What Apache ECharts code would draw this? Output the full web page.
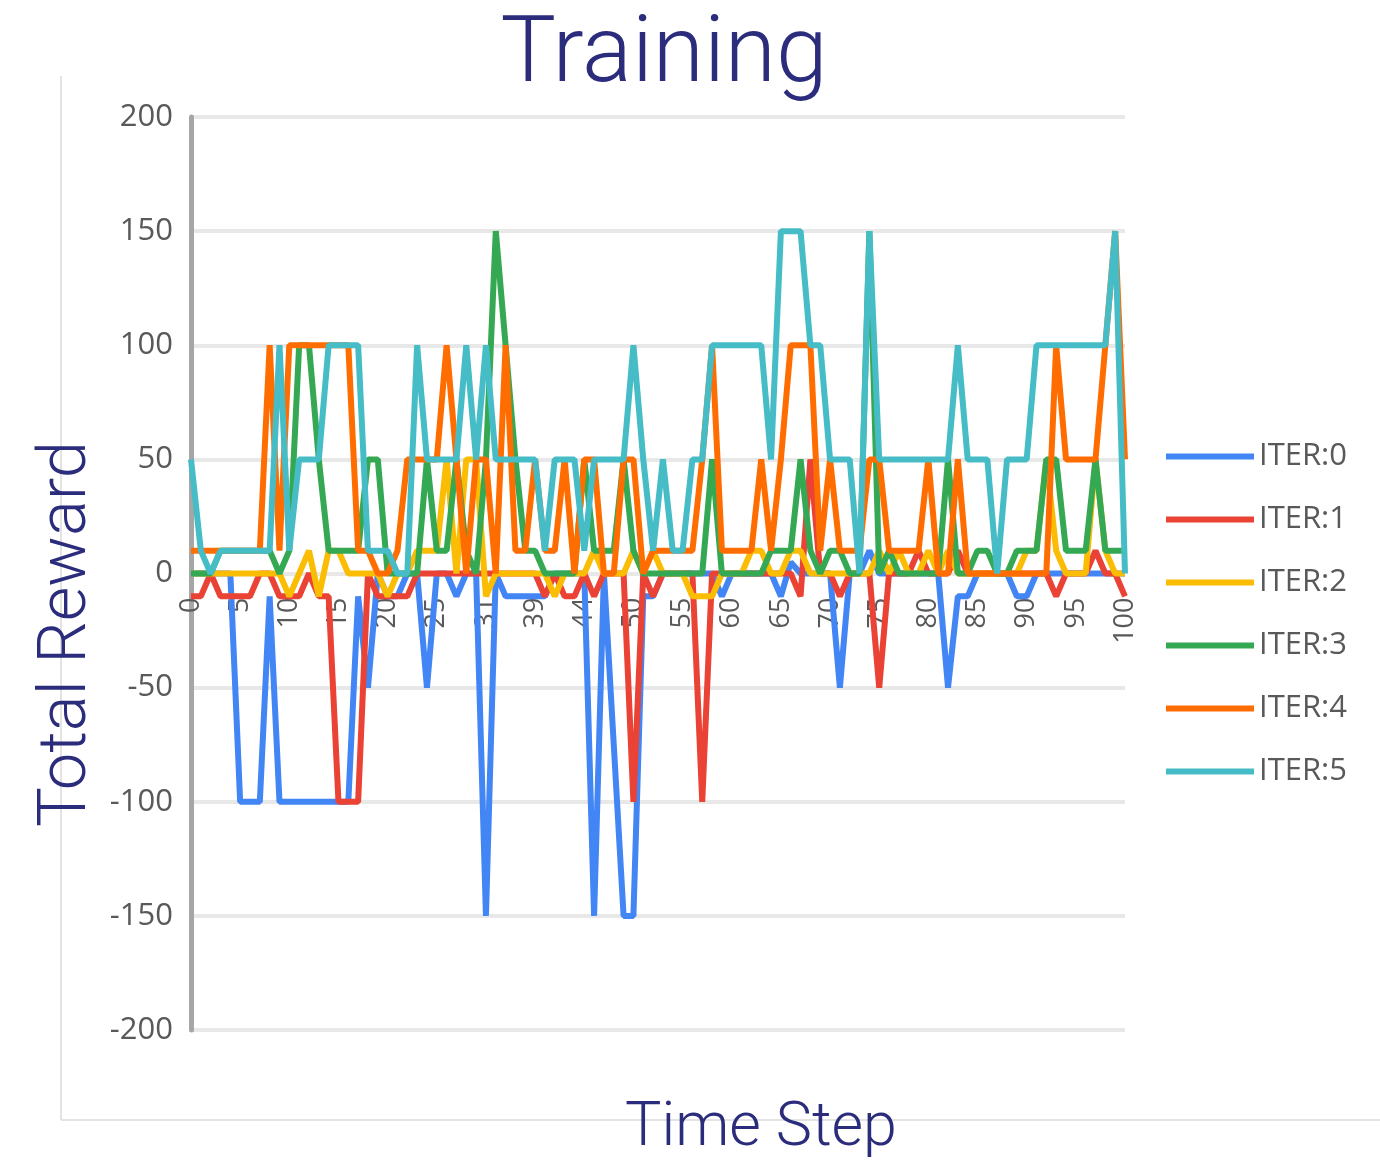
<!DOCTYPE html>
<html>
<head>
<meta charset="utf-8">
<script src="https://cdn.jsdelivr.net/npm/echarts@6/dist/echarts.min.js"></script>
<style>
  html, body { margin: 0; padding: 0; background: #ffffff; }
  #chart { width: 1380px; height: 1160px; }
</style>
</head>
<body>
<div id="chart"></div>
<script>
// Time step of each sample
const timeSteps = [
  0, 1, 2, 3, 4, 5, 6, 7, 8, 9, 10, 11, 12, 13, 14, 15, 16, 17, 18, 19,
  20, 21, 22, 23, 24, 25, 26, 27, 29, 30, 31, 32, 34, 36, 38, 39, 40, 41, 42, 43,
  44, 45, 46, 48, 49, 50, 51, 52, 53, 54, 55, 56, 57, 58, 59, 60, 61, 62, 63, 64,
  65, 66, 67, 68, 69, 70, 71, 72, 73, 74, 75, 76, 77, 78, 79, 80, 81, 82, 83, 84,
  85, 86, 87, 88, 89, 90, 91, 92, 93, 94, 95, 96, 97, 98, 99, 100
];

const seriesNames = ['ITER:0', 'ITER:1', 'ITER:2', 'ITER:3', 'ITER:4', 'ITER:5'];
const seriesColors = ['#4285F4', '#EA4335', '#FBBC04', '#34A853', '#FF6D01', '#46BDC6'];

// Total reward per iteration
const iter0 = [
  0, 0, 0, 0, 0, -100, -100, -100, -10, -100, -100, -100, -100, -100, -100, -100, -100, -10, -50, 0,
  -10, -10, 0, 0, -50, 0, 0, -10, 0, 0, -150, 0, -10, -10, -10, -10, -10, 0, 0, 0,
  0, -150, 0, -75, -150, -150, -10, -10, 0, 0, 0, 0, 0, 0, -10, 0, 0, 0, 0, 0,
  -10, 5, 0, 0, 0, 0, -50, 0, 0, 10, 0, 0, 0, 0, 0, 0, 0, -50, -10, -10,
  0, 0, 0, 0, -10, -10, 0, 0, 0, 0, 0, 0, 0, 0, 0, 0
];
const iter1 = [
  -10, -10, 0, -10, -10, -10, -10, 0, 0, -10, -10, -10, 0, -10, -10, -100, -100, -100, 0, -10,
  -10, -10, -10, 0, 0, 0, 0, 0, 0, 0, 0, 0, 0, 0, 0, 0, -10, 0, -10, -10,
  0, -10, 0, 0, 0, -100, 0, -10, 0, 0, 0, 0, -100, 0, 0, 0, 0, 0, 0, 0,
  0, 0, -10, 50, 0, 0, -10, 0, 0, 0, -50, 0, 0, 0, 10, 0, 0, 0, 10, 0,
  0, 0, 0, 0, 0, 0, 0, 0, -10, 0, 0, 0, 10, 0, 0, -10
];
const iter2 = [
  0, 0, 0, 0, 0, 0, 0, 0, 0, 0, -10, 0, 10, -10, 10, 10, 0, 0, 0, 0,
  -10, 0, 0, 10, 10, 10, 50, 0, 50, 50, -10, 0, 0, 0, 0, 0, 0, -10, 0, 0,
  0, 10, 0, 0, 0, 10, 0, 10, 0, 0, 0, -10, -10, -10, 0, 0, 0, 10, 10, 0,
  0, 10, 10, 0, 0, 0, 0, 0, 0, 0, 10, 0, 10, 0, 0, 10, 0, 10, 0, 0,
  0, 0, 0, 0, 0, 10, 10, 50, 10, 0, 0, 0, 50, 10, 0, 0
];
const iter3 = [
  0, 0, 0, 10, 10, 10, 10, 10, 10, 0, 10, 100, 100, 50, 10, 10, 10, 10, 50, 50,
  0, 0, 0, 0, 50, 10, 10, 50, 10, 0, 50, 150, 100, 50, 10, 10, 0, 0, 0, 0,
  50, 10, 10, 10, 50, 10, 0, 0, 0, 0, 0, 0, 0, 50, 0, 0, 0, 0, 0, 10,
  10, 10, 50, 10, 0, 10, 10, 0, 0, 150, 0, 10, 0, 0, 0, 0, 0, 50, 0, 0,
  10, 10, 0, 0, 10, 10, 10, 50, 50, 10, 10, 10, 50, 10, 10, 10
];
const iter4 = [
  10, 10, 10, 10, 10, 10, 10, 10, 100, 10, 100, 100, 100, 100, 100, 100, 100, 10, 10, 0,
  0, 10, 50, 50, 50, 50, 100, 50, 0, 50, 50, 0, 100, 10, 10, 50, 10, 10, 50, 0,
  50, 50, 0, 0, 50, 50, 0, 10, 10, 10, 10, 10, 50, 100, 10, 10, 10, 10, 50, 10,
  50, 100, 100, 100, 10, 50, 10, 10, 10, 50, 50, 10, 10, 10, 10, 50, 0, 0, 50, 0,
  0, 0, 0, 0, 0, 0, 0, 0, 100, 50, 50, 50, 50, 100, 150, 50
];
const iter5 = [
  50, 10, 0, 10, 10, 10, 10, 10, 10, 100, 10, 50, 50, 50, 100, 100, 100, 100, 10, 10,
  10, 0, 0, 100, 50, 50, 50, 50, 100, 50, 100, 50, 50, 50, 50, 50, 10, 50, 50, 50,
  10, 50, 50, 50, 50, 100, 50, 10, 50, 10, 10, 50, 50, 100, 100, 100, 100, 100, 100, 50,
  150, 150, 150, 100, 100, 50, 50, 50, 0, 150, 50, 50, 50, 50, 50, 50, 50, 50, 100, 50,
  50, 50, 0, 50, 50, 50, 100, 100, 100, 100, 100, 100, 100, 100, 150, 0
];

const rewardSeries = [iter0, iter1, iter2, iter3, iter4, iter5];

const yTicks = { min: -200, max: 200, step: 50 };

const chart = echarts.init(document.getElementById('chart'), null, { renderer: 'canvas' });

const labelFont = '"Open Sans", "Noto Sans", sans-serif';
const headFont = 'Roboto, "Open Sans", sans-serif';
const navy = '#2B2D7C';

// grid geometry: the category labels sit just under the zero line
const gridTop = 117;
const gridBottom = 1030;
const zeroY = gridTop + (gridBottom - gridTop) * (yTicks.max - 0) / (yTicks.max - yTicks.min);

chart.setOption({
  animation: false,
  backgroundColor: '#ffffff',
  textStyle: { fontFamily: labelFont },
  grid: { left: 191, right: 255, top: gridTop, bottom: 1160 - gridBottom, containLabel: false },
  legend: {
    orient: 'vertical',
    left: 1161,
    top: 436,
    icon: 'rect',
    itemWidth: 88,
    itemHeight: 6,
    itemGap: 32,
    textStyle: { fontSize: 31, color: '#595959', fontFamily: labelFont, lineHeight: 30 },
    data: seriesNames
  },
  xAxis: {
    type: 'category',
    data: timeSteps.map(String),
    boundaryGap: false,
    axisLine: { show: false },
    axisTick: { show: false },
    axisLabel: {
      interval: 4,
      rotate: 90,
      margin: 24 - (gridBottom - zeroY),
      fontSize: 27,
      color: '#595959',
      fontFamily: labelFont
    },
    splitLine: { show: false }
  },
  yAxis: {
    type: 'value',
    min: yTicks.min,
    max: yTicks.max,
    interval: yTicks.step,
    axisLine: { show: true, onZero: false, lineStyle: { color: '#A6A6A6', width: 5 } },
    axisTick: { show: false },
    axisLabel: { fontSize: 31, color: '#595959', margin: 18, fontFamily: labelFont },
    splitLine: { show: true, lineStyle: { color: '#E8E8E8', width: 4 } }
  },
  series: rewardSeries.map((vals, k) => ({
    name: seriesNames[k],
    type: 'line',
    data: vals,
    symbol: 'none',
    showSymbol: false,
    smooth: false,
    color: seriesColors[k],
    lineStyle: { width: 6, color: seriesColors[k] },
    emphasis: { disabled: true }
  })),
  graphic: [
    { type: 'line', shape: { x1: 61, y1: 76, x2: 61, y2: 1120 }, style: { stroke: '#E3E3E3', lineWidth: 2 }, silent: true },
    { type: 'line', shape: { x1: 61, y1: 1120, x2: 1380, y2: 1120 }, style: { stroke: '#E3E3E3', lineWidth: 2 }, silent: true },
    {
      type: 'text', x: 664, y: 58,
      style: { text: 'Training', font: '300 93px ' + headFont, fill: navy, textAlign: 'center', textVerticalAlign: 'middle' }
    },
    {
      type: 'text', x: 68, y: 634, rotation: Math.PI / 2,
      style: { text: 'Total Reward', font: '300 67px ' + headFont, fill: navy, textAlign: 'center', textVerticalAlign: 'middle' }
    },
    {
      type: 'text', x: 761, y: 1130,
      style: { text: 'Time Step', font: '300 61px ' + headFont, fill: navy, textAlign: 'center', textVerticalAlign: 'middle' }
    }
  ]
});
</script>
</body>
</html>
